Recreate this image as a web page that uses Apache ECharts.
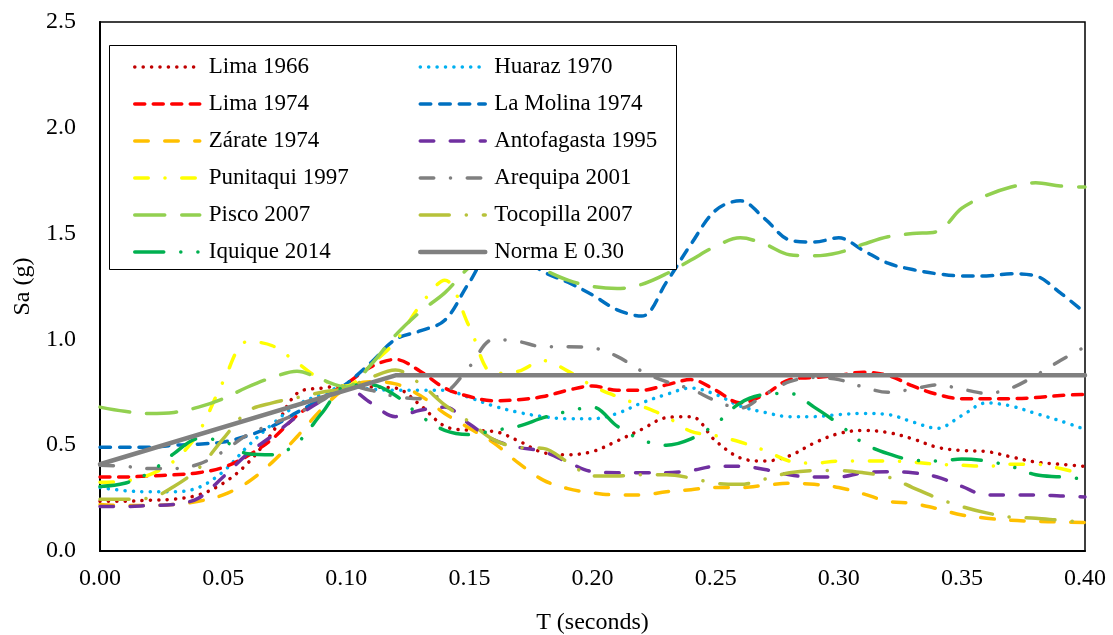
<!DOCTYPE html>
<html><head><meta charset="utf-8">
<script src="https://cdn.jsdelivr.net/npm/echarts@6/dist/echarts.min.js"></script>
<style>html,body{margin:0;padding:0;background:#fff}#c{width:1113px;height:635px}</style>
</head><body><div id="c"></div><script>
// Periods (s)
const periods = [0.00,0.01,0.02,0.03,0.04,0.05,0.06,0.07,0.08,0.09,0.10,0.11,0.12,0.13,0.14,0.15,0.16,0.17,0.18,0.19,0.20,0.21,0.22,0.23,0.24,0.25,0.26,0.27,0.28,0.29,0.30,0.31,0.32,0.33,0.34,0.35,0.36,0.37,0.38,0.39,0.40];
// Spectral accelerations Sa (g)
const lima1966 = [0.235,0.235,0.24,0.245,0.265,0.32,0.415,0.56,0.745,0.77,0.78,0.775,0.77,0.69,0.59,0.57,0.565,0.52,0.465,0.455,0.47,0.52,0.575,0.63,0.635,0.52,0.44,0.425,0.45,0.51,0.555,0.57,0.56,0.53,0.49,0.475,0.47,0.445,0.42,0.41,0.40];
const huaraz1970 = [0.30,0.285,0.28,0.28,0.30,0.375,0.495,0.60,0.69,0.74,0.78,0.765,0.76,0.76,0.76,0.725,0.685,0.655,0.635,0.625,0.625,0.65,0.70,0.74,0.77,0.74,0.685,0.655,0.635,0.635,0.645,0.65,0.645,0.61,0.58,0.64,0.70,0.685,0.65,0.615,0.575];
const lima1974 = [0.35,0.35,0.355,0.36,0.37,0.395,0.45,0.53,0.64,0.72,0.79,0.87,0.905,0.85,0.77,0.73,0.71,0.715,0.73,0.76,0.78,0.76,0.76,0.785,0.81,0.76,0.70,0.74,0.81,0.82,0.83,0.845,0.83,0.78,0.74,0.72,0.72,0.72,0.725,0.735,0.74];
const laMolina1974 = [0.49,0.49,0.49,0.50,0.505,0.515,0.545,0.59,0.655,0.72,0.79,0.89,1.00,1.04,1.09,1.27,1.42,1.40,1.32,1.27,1.21,1.14,1.11,1.27,1.45,1.61,1.655,1.57,1.47,1.46,1.48,1.42,1.36,1.33,1.31,1.30,1.30,1.31,1.30,1.22,1.125];
const zarate1974 = [0.22,0.215,0.215,0.22,0.235,0.265,0.325,0.42,0.54,0.67,0.77,0.80,0.79,0.735,0.65,0.58,0.51,0.415,0.335,0.295,0.275,0.265,0.265,0.28,0.29,0.30,0.30,0.31,0.32,0.315,0.30,0.27,0.235,0.225,0.20,0.17,0.155,0.145,0.14,0.137,0.135];
const antofagasta1995 = [0.21,0.21,0.215,0.22,0.25,0.35,0.46,0.545,0.635,0.71,0.77,0.70,0.635,0.665,0.68,0.60,0.525,0.49,0.47,0.42,0.375,0.37,0.37,0.37,0.38,0.40,0.40,0.385,0.36,0.35,0.35,0.37,0.375,0.37,0.35,0.305,0.265,0.265,0.265,0.26,0.255];
const punitaqui1997 = [0.325,0.33,0.36,0.425,0.56,0.80,0.99,0.97,0.89,0.81,0.78,0.88,0.99,1.16,1.28,1.06,0.84,0.85,0.90,0.85,0.78,0.73,0.685,0.635,0.565,0.545,0.515,0.475,0.425,0.415,0.425,0.425,0.425,0.42,0.41,0.405,0.40,0.41,0.41,0.39,0.36];
const arequipa2001 = [0.405,0.40,0.39,0.39,0.41,0.47,0.55,0.60,0.65,0.71,0.78,0.76,0.73,0.72,0.745,0.87,1.00,0.99,0.965,0.965,0.96,0.92,0.85,0.80,0.765,0.71,0.675,0.74,0.80,0.82,0.81,0.775,0.75,0.765,0.785,0.765,0.745,0.77,0.83,0.90,0.965];
const pisco2007 = [0.68,0.66,0.65,0.655,0.68,0.72,0.775,0.82,0.85,0.81,0.775,0.88,1.02,1.13,1.22,1.34,1.40,1.38,1.33,1.28,1.25,1.24,1.26,1.31,1.375,1.44,1.48,1.45,1.40,1.395,1.41,1.45,1.485,1.50,1.51,1.62,1.68,1.72,1.74,1.725,1.72];
const tocopilla2007 = [0.245,0.245,0.25,0.305,0.39,0.53,0.66,0.70,0.725,0.75,0.77,0.82,0.855,0.79,0.69,0.61,0.525,0.49,0.485,0.42,0.355,0.355,0.36,0.36,0.345,0.32,0.315,0.34,0.37,0.38,0.38,0.37,0.35,0.30,0.25,0.21,0.18,0.16,0.155,0.145,0.137];
const iquique2014 = [0.305,0.32,0.37,0.46,0.53,0.52,0.46,0.455,0.51,0.65,0.78,0.785,0.735,0.64,0.57,0.55,0.57,0.59,0.63,0.66,0.68,0.59,0.525,0.50,0.53,0.60,0.70,0.74,0.745,0.68,0.60,0.51,0.46,0.43,0.425,0.435,0.425,0.40,0.36,0.35,0.34];
// Design spectrum (Norma E.030)
const normaT = [0.00,0.12,0.40];
const normaSa = [0.41,0.83,0.83];
// Tick labels
const yTicks = ['0.0','0.5','1.0','1.5','2.0','2.5'];
const xTicks = ['0.00','0.05','0.10','0.15','0.20','0.25','0.30','0.35','0.40'];

const seriesNames = ['Lima 1966','Huaraz 1970','Lima 1974','La Molina 1974','Zárate 1974','Antofagasta 1995','Punitaqui 1997','Arequipa 2001','Pisco 2007','Tocopilla 2007','Iquique 2014'];
const seriesValues = [lima1966,huaraz1970,lima1974,laMolina1974,zarate1974,antofagasta1995,punitaqui1997,arequipa2001,pisco2007,tocopilla2007,iquique2014];
const normaName = 'Norma E 0.30';

const W = 3.5;
const styles = [
  {c:'#C00000', d:[0.1,8.3]},
  {c:'#00B0F0', d:[0.1,8.3]},
  {c:'#FF0000', d:[10,8.5]},
  {c:'#0070C0', d:[10.5,9]},
  {c:'#FFC000', d:[13.5,16.5]},
  {c:'#7030A0', d:[13.5,16.5]},
  {c:'#FFFF00', d:[13.5,16.7,0.1,16.7]},
  {c:'#808080', d:[13.5,16.7,0.1,16.7]},
  {c:'#92D050', d:[30,17]},
  {c:'#B7C23A', d:[29,17,0.1,17]},
  {c:'#00B050', d:[29,17,0.1,17,0.1,17]}
];

const FONT = 'Liberation Serif';
const series = seriesValues.map((vals,i)=>({
  name: seriesNames[i], type:'line', smooth:0.35, symbol:'none', showSymbol:false,
  data: periods.map((t,k)=>[t, vals[k]]),
  lineStyle:{color:styles[i].c, width:W, type:styles[i].d, cap:'round', join:'round'},
  itemStyle:{color:styles[i].c},
  emphasis:{disabled:true}, animation:false, z:2
}));
series.push({
  name: normaName, type:'line', smooth:false, symbol:'none', showSymbol:false,
  data: normaT.map((t,k)=>[t, normaSa[k]]),
  lineStyle:{color:'#808080', width:4.5, type:'solid', cap:'round'},
  itemStyle:{color:'#808080'}, emphasis:{disabled:true}, animation:false, z:2
});

const legendCommon = {
  orient:'vertical', padding:0, itemWidth:65, itemHeight:14, itemGap:13, z:10,
  selectedMode:false,
  itemStyle:{color:'rgba(0,0,0,0)', borderWidth:0, opacity:0},
  lineStyle:{width:'inherit', type:'inherit', cap:'inherit', color:'inherit'},
  textStyle:{fontFamily:FONT, fontSize:23, color:'#000', lineHeight:24, padding:[0,0,0,4]}
};

const chart = echarts.init(document.getElementById('c'), null, {renderer:'canvas'});
chart.setOption({
  animation:false,
  backgroundColor:'#fff',
  grid:{left:100, top:22, width:985, height:529, show:true, borderColor:'#000', borderWidth:1.5,
    backgroundColor:'transparent', containLabel:false, outerBoundsMode:'none'},
  xAxis:{type:'value', min:0, max:0.4, interval:0.05,
    name:'T (seconds)', nameLocation:'middle', nameGap:60,
    nameTextStyle:{fontFamily:FONT, fontSize:24, color:'#000'},
    axisLine:{show:true, onZero:false, lineStyle:{color:'#000', width:2}},
    axisTick:{show:false}, splitLine:{show:false},
    axisLabel:{fontFamily:FONT, fontSize:24, color:'#000', margin:16,
      formatter:(v)=>xTicks[Math.round(v/0.05)]}},
  yAxis:{type:'value', min:0, max:2.5, interval:0.5,
    name:'Sa (g)', nameLocation:'middle', nameGap:55, nameRotate:90,
    nameTextStyle:{fontFamily:FONT, fontSize:24, color:'#000'},
    axisLine:{show:true, lineStyle:{color:'#000', width:2}},
    axisTick:{show:false}, splitLine:{show:false},
    axisLabel:{fontFamily:FONT, fontSize:24, color:'#000', margin:24,
      formatter:(v)=>yTicks[Math.round(v/0.5)]}},
  legend:[
    Object.assign({}, legendCommon, {left:133, top:55, data:['Lima 1966','Lima 1974','Zárate 1974','Punitaqui 1997','Pisco 2007','Iquique 2014']}),
    Object.assign({}, legendCommon, {left:418, top:55, data:['Huaraz 1970','La Molina 1974','Antofagasta 1995','Arequipa 2001','Tocopilla 2007','Norma E 0.30']})
  ],
  graphic:[{type:'rect', z:5, shape:{x:109.5, y:45.5, width:567, height:224},
    style:{fill:'#fff', stroke:'#000', lineWidth:1}}],
  series: series
});
</script></body></html>
